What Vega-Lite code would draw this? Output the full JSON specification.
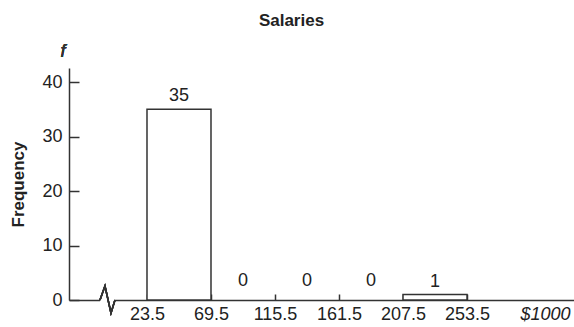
{
  "$schema": "https://vega.github.io/schema/vega-lite/v6.json",
  "width": 505,
  "height": 232,
  "autosize": {"type": "none"},
  "padding": {"left": 69, "top": 68, "right": 0, "bottom": 27},
  "background": "white",
  "config": {
    "view": {"stroke": null},
    "font": "Liberation Sans",
    "axis": {"labelFont": "Liberation Sans", "titleFont": "Liberation Sans"}
  },
  "title": {
    "text": "Salaries",
    "fontSize": 17,
    "fontWeight": "bold",
    "font": "Liberation Sans",
    "color": "#222222",
    "anchor": "middle",
    "frame": "bounds",
    "offset": 13
  },
  "data": {
    "values": [
      {"start": 23.5, "end": 69.5, "midpoint": 46.5, "count": 35},
      {"start": 69.5, "end": 115.5, "midpoint": 92.5, "count": 0},
      {"start": 115.5, "end": 161.5, "midpoint": 138.5, "count": 0},
      {"start": 161.5, "end": 207.5, "midpoint": 184.5, "count": 0},
      {"start": 207.5, "end": 253.5, "midpoint": 230.5, "count": 1}
    ]
  },
  "layer": [
    {
      "mark": {"type": "rect", "fill": "white", "stroke": "#333333", "strokeWidth": 1.5},
      "transform": [{"filter": "datum.count > 0"}],
      "encoding": {
        "x": {
          "field": "start",
          "type": "quantitative",
          "scale": {"domain": [-32.56, 330.4], "nice": false, "zero": false},
          "axis": {
            "values": [23.5, 69.5, 115.5, 161.5, 207.5, 253.5, 309.5],
            "title": null,
            "grid": false,
            "domain": true,
            "domainColor": "#333333",
            "domainWidth": 1.5,
            "tickSize": -6,
            "tickColor": "#333333",
            "tickWidth": 1.5,
            "tickOpacity": {"condition": {"test": "datum.value > 300", "value": 0}, "value": 1},
            "labelExpr": "datum.value > 300 ? '$1000' : format(datum.value, '.1f')",
            "labelFontStyle": {"condition": {"test": "datum.value > 300", "value": "italic"}, "value": "normal"},
            "labelFontSize": 18,
            "labelColor": "#222222",
            "labelPadding": 11,
            "labelOverlap": false,
            "labelFlush": false
          }
        },
        "x2": {"field": "end"},
        "y": {
          "field": "count",
          "type": "quantitative",
          "scale": {"domain": [0, 42.57], "nice": false},
          "axis": {
            "values": [0, 10, 20, 30, 40],
            "title": "Frequency",
            "titleFontSize": 17,
            "titleFontWeight": "bold",
            "titleColor": "#222222",
            "titleX": -51,
            "titleY": 116,
            "titleAlign": "center",
            "titleBaseline": "middle",
            "titleAngle": -90,
            "grid": false,
            "domain": true,
            "domainColor": "#333333",
            "domainWidth": 1.5,
            "tickSize": -10,
            "tickColor": "#333333",
            "tickWidth": 1.5,
            "labelFontSize": 18,
            "labelColor": "#222222",
            "labelPadding": 17
          }
        },
        "y2": {"datum": 0}
      }
    },
    {
      "mark": {"type": "point", "shape": "square", "size": 196, "filled": true, "fill": "white", "stroke": null, "strokeWidth": 0, "opacity": 1},
      "encoding": {
        "x": {"datum": -4.9, "type": "quantitative"},
        "y": {"datum": 0, "type": "quantitative"}
      }
    },
    {
      "mark": {"type": "point", "shape": "M-0.536,0L-0.179,-1L0.25,0.929L0.536,0", "size": 784, "filled": false, "stroke": "#333333", "strokeWidth": 1.5, "opacity": 1},
      "encoding": {
        "x": {"datum": -4.9, "type": "quantitative"},
        "y": {"datum": 0, "type": "quantitative"}
      }
    },
    {
      "mark": {"type": "text", "fontSize": 18, "color": "#222222", "baseline": "alphabetic", "dy": -8},
      "transform": [{"filter": "datum.count > 0"}],
      "encoding": {
        "x": {"field": "midpoint", "type": "quantitative"},
        "y": {"field": "count", "type": "quantitative"},
        "text": {"field": "count", "type": "quantitative"}
      }
    },
    {
      "mark": {"type": "text", "fontSize": 18, "color": "#222222", "baseline": "alphabetic", "dy": -14},
      "transform": [{"filter": "datum.count == 0"}],
      "encoding": {
        "x": {"field": "midpoint", "type": "quantitative"},
        "y": {"field": "count", "type": "quantitative"},
        "text": {"field": "count", "type": "quantitative"}
      }
    },
    {
      "mark": {"type": "text", "text": "f", "font": "Liberation Sans", "fontSize": 18, "fontStyle": "italic", "fontWeight": "normal", "color": "#333333", "baseline": "alphabetic", "dx": -6},
      "encoding": {
        "x": {"datum": -32.56, "type": "quantitative"},
        "y": {"datum": 44.6, "type": "quantitative"}
      }
    }
  ]
}
